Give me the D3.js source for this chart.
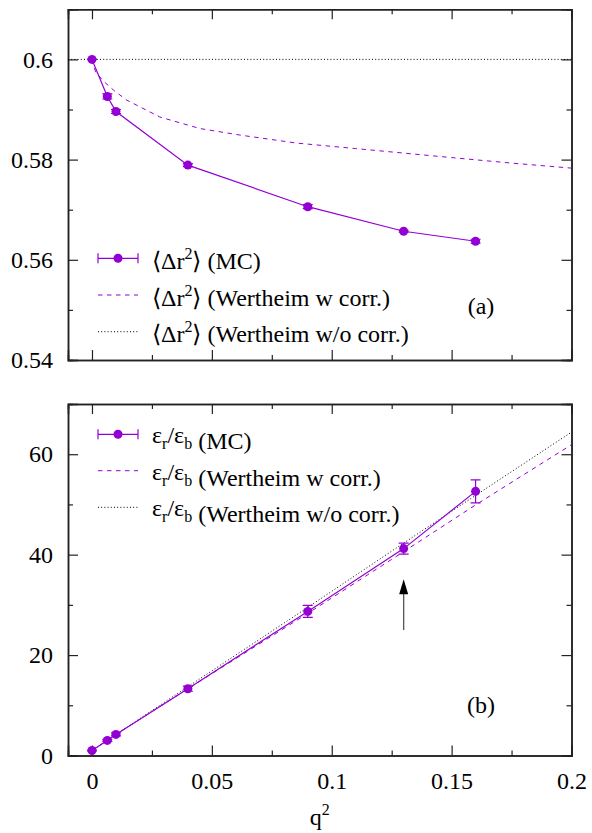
<!DOCTYPE html>
<meta charset="utf-8">
<head>
    <title>Delta r^2 and eps_r/eps_b vs q^2</title>
    <script type="text/javascript" src="https://cdn.jsdelivr.net/npm/d3@7/dist/d3.min.js"></script>
    <style type="text/css">
        body { margin: 0; background: #fff; }
        .axis path { stroke: #222; stroke-width: 1.5; }
        .axis line { stroke: #222; stroke-width: 1.2; }
    </style>
</head>
<body>
<div id="chart"></div>
<script>
// ---- data ----
var q2 = [0, 0.0064, 0.01, 0.04, 0.09, 0.13, 0.16];

// panel (a): <dr^2>
var dr2MC  = [0.6, 0.5926, 0.5896, 0.5789, 0.5706, 0.5657, 0.5637];
var dr2Err = [0, 0.0005, 0.0004, 0.0003, 0.0004, 0.0002, 0.0004];
var dr2WcX = [0, 0.0015, 0.0047, 0.0089, 0.0144, 0.0283, 0.045, 0.0617, 0.0853, 0.11, 0.13, 0.15, 0.175, 0.2];
var dr2WcY = [0.6, 0.5975, 0.5957, 0.5939, 0.5919, 0.5885, 0.5862, 0.5849, 0.5833, 0.5822, 0.5813, 0.5804, 0.5793, 0.5783];
var dr2WoX = [-0.01, 0.2];
var dr2WoY = [0.6, 0.6];

// panel (b): eps_r / eps_b
var epsMC  = [1.0, 3.0, 4.2, 13.3, 28.7, 41.2, 52.6];
var epsErr = [0.1, 0.2, 0.3, 0.5, 1.2, 1.1, 2.3];
var epsWcX = [0, 0.01, 0.04, 0.09, 0.13, 0.16, 0.2];
var epsWcY = [1, 4.2, 13.3, 28.3, 40.6, 49.9, 61.9];
var epsWoX = [0, 0.04, 0.09, 0.13, 0.16, 0.2];
var epsWoY = [1, 13.7, 29.5, 42.3, 51.8, 64.4];

// arrow in panel (b), data coords
var arrowX = 0.13, arrowFrom = 25, arrowTo = 35.1;

var xMajor = [0, 0.05, 0.1, 0.15, 0.2];
var xMinor = [0.025, 0.075, 0.125, 0.175];
var xLabels = ["0", "0.05", "0.1", "0.15", "0.2"];

var width = 592, height = 833;
var left = 68, right = 571.5;
var purple = "#9400d3";
var serif = "Liberation Serif, Times New Roman, serif";

var svg = d3.select("#chart").append("svg")
    .attr("width", width).attr("height", height);

var x = d3.scaleLinear().domain([-0.01, 0.2]).range([left, right]);

function drawPanel(cfg) {
    var y = d3.scaleLinear().domain(cfg.domain).range([cfg.bottom, cfg.top]);
    var g = svg.append("g");
    var id = "clip" + cfg.name;
    svg.append("clipPath").attr("id", id).append("rect")
        .attr("x", left).attr("y", cfg.top).attr("width", right - left).attr("height", cfg.bottom - cfg.top);

    // axes: major + minor ticks on all four sides, pointing inward
    g.append("g").attr("class", "axis").attr("transform", "translate(" + left + ",0)")
        .call(d3.axisLeft(y).tickValues(cfg.yMajor).tickSize(-10).tickPadding(15).tickFormat(function(d, i) { return cfg.yLabels[i]; }));
    g.append("g").attr("class", "axis").attr("transform", "translate(" + left + ",0)")
        .call(d3.axisLeft(y).tickValues(cfg.yMinor).tickSize(-5).tickFormat(""));
    g.append("g").attr("class", "axis").attr("transform", "translate(" + right + ",0)")
        .call(d3.axisRight(y).tickValues(cfg.yMajor).tickSize(-10).tickFormat(""));
    g.append("g").attr("class", "axis").attr("transform", "translate(" + right + ",0)")
        .call(d3.axisRight(y).tickValues(cfg.yMinor).tickSize(-5).tickFormat(""));
    g.append("g").attr("class", "axis").attr("transform", "translate(0," + cfg.bottom + ")")
        .call(d3.axisBottom(x).tickValues(xMajor).tickSize(-10).tickPadding(16)
            .tickFormat(function(d, i) { return cfg.xLabels ? xLabels[i] : ""; }));
    g.append("g").attr("class", "axis").attr("transform", "translate(0," + cfg.bottom + ")")
        .call(d3.axisBottom(x).tickValues(xMinor).tickSize(-5).tickFormat(""));
    g.append("g").attr("class", "axis").attr("transform", "translate(0," + cfg.top + ")")
        .call(d3.axisTop(x).tickValues(xMajor).tickSize(-10).tickFormat(""));
    g.append("g").attr("class", "axis").attr("transform", "translate(0," + cfg.top + ")")
        .call(d3.axisTop(x).tickValues(xMinor).tickSize(-5).tickFormat(""));
    g.selectAll(".axis").attr("font-family", serif).attr("font-size", 24);

    var line = d3.line().x(function(d) { return x(d[0]); }).y(function(d) { return y(d[1]); });
    var plot = g.append("g").attr("clip-path", "url(#" + id + ")");

    // Wertheim w/o corr. - dotted black
    plot.append("path").datum(d3.zip(cfg.woX, cfg.woY))
        .attr("d", line).attr("fill", "none").attr("stroke", "#000")
        .attr("stroke-width", 1).attr("stroke-dasharray", "1,2.2");
    // Wertheim w corr. - dashed purple
    plot.append("path").datum(d3.zip(cfg.wcX, cfg.wcY))
        .attr("d", line).attr("fill", "none").attr("stroke", purple)
        .attr("stroke-width", 1).attr("stroke-dasharray", "4.5,4.5");
    // MC with error bars
    var mc = d3.zip(q2, cfg.mc, cfg.err);
    plot.append("path").datum(mc)
        .attr("d", line).attr("fill", "none").attr("stroke", purple).attr("stroke-width", 1.2);
    var eb = plot.selectAll(".eb").data(mc).enter().append("g");
    eb.append("line")
        .attr("x1", function(d) { return x(d[0]); }).attr("x2", function(d) { return x(d[0]); })
        .attr("y1", function(d) { return y(d[1] - d[2]); }).attr("y2", function(d) { return y(d[1] + d[2]); })
        .attr("stroke", purple).attr("stroke-width", 1.2);
    [-1, 1].forEach(function(s) {
        eb.append("line")
            .attr("x1", function(d) { return x(d[0]) - 5; }).attr("x2", function(d) { return x(d[0]) + 5; })
            .attr("y1", function(d) { return y(d[1] + s * d[2]); }).attr("y2", function(d) { return y(d[1] + s * d[2]); })
            .attr("stroke", purple).attr("stroke-width", 1.2);
    });
    eb.append("circle")
        .attr("cx", function(d) { return x(d[0]); }).attr("cy", function(d) { return y(d[1]); })
        .attr("r", 4.5).attr("fill", purple);

    // legend
    var lx0 = 98, lx1 = 138, tx = 152;
    var rows = cfg.legendY;
    var lg = g.append("g");
    lg.append("line").attr("x1", lx0).attr("x2", lx1).attr("y1", rows[0]).attr("y2", rows[0])
        .attr("stroke", purple).attr("stroke-width", 1.2);
    [lx0, lx1].forEach(function(xx) {
        lg.append("line").attr("x1", xx).attr("x2", xx).attr("y1", rows[0] - 5).attr("y2", rows[0] + 5)
            .attr("stroke", purple).attr("stroke-width", 1.2);
    });
    lg.append("circle").attr("cx", (lx0 + lx1) / 2).attr("cy", rows[0]).attr("r", 4.5).attr("fill", purple);
    lg.append("line").attr("x1", lx0).attr("x2", lx1).attr("y1", rows[1]).attr("y2", rows[1])
        .attr("stroke", purple).attr("stroke-width", 1).attr("stroke-dasharray", "4.5,4.5");
    lg.append("line").attr("x1", lx0).attr("x2", lx1).attr("y1", rows[2]).attr("y2", rows[2])
        .attr("stroke", "#000").attr("stroke-width", 1).attr("stroke-dasharray", "1,2.2");
    var suffix = [" (MC)", " (Wertheim w corr.)", " (Wertheim w/o corr.)"];
    rows.forEach(function(ry, i) {
        var t = lg.append("text").attr("x", tx).attr("y", ry + cfg.textOff)
            .attr("font-family", serif).attr("font-size", 24);
        cfg.legendLabel(t);
        t.append("tspan").text(suffix[i]);
    });

    // panel tag
    g.append("text").attr("x", 481).attr("y", cfg.tagY).attr("text-anchor", "middle")
        .attr("font-family", serif).attr("font-size", 24).text(cfg.tag);
    return y;
}

drawPanel({
    name: "a", top: 9.3, bottom: 360, domain: [0.54, 0.61],
    yMajor: [0.54, 0.56, 0.58, 0.6], yLabels: ["0.54", "0.56", "0.58", "0.6"],
    yMinor: [0.55, 0.57, 0.59],
    mc: dr2MC, err: dr2Err, wcX: dr2WcX, wcY: dr2WcY, woX: dr2WoX, woY: dr2WoY,
    legendY: [258.3, 295, 331.7], textOff: 10.5,
    legendLabel: function(t) {
        t.append("tspan").text("\u27E8\u0394r");
        t.append("tspan").attr("font-size", 16).attr("dy", -10).text("2");
        t.append("tspan").attr("dy", 10).text("\u27E9");
    },
    tag: "(a)", tagY: 314, xLabels: false
});

var yb = drawPanel({
    name: "b", top: 404, bottom: 755.5, domain: [0, 70],
    yMajor: [0, 20, 40, 60], yLabels: ["0", "20", "40", "60"],
    yMinor: [10, 30, 50],
    mc: epsMC, err: epsErr, wcX: epsWcX, wcY: epsWcY, woX: epsWoX, woY: epsWoY,
    legendY: [434.3, 470.7, 507.3], textOff: 9,
    legendLabel: function(t) {
        t.append("tspan").text("\u03B5");
        t.append("tspan").attr("font-size", 16).attr("dy", 6).text("r");
        t.append("tspan").attr("dy", -6).text("/\u03B5");
        t.append("tspan").attr("font-size", 16).attr("dy", 6).text("b");
        t.append("tspan").attr("dy", -6).text("");
    },
    tag: "(b)", tagY: 712.5, xLabels: true
});

// arrow pointing at q^2 = 0.13
svg.append("line")
    .attr("x1", x(arrowX)).attr("x2", x(arrowX))
    .attr("y1", yb(arrowFrom)).attr("y2", yb(arrowTo) + 14)
    .attr("stroke", "#555").attr("stroke-width", 1.3);
svg.append("path")
    .attr("d", "M" + x(arrowX) + "," + yb(arrowTo) + " l-4.5,15 l9,0 z")
    .attr("fill", "#000");

// x axis title
var xt = svg.append("text").attr("x", (left + right) / 2).attr("y", 825)
    .attr("text-anchor", "middle").attr("font-family", serif).attr("font-size", 24);
xt.append("tspan").text("q");
xt.append("tspan").attr("font-size", 16).attr("dy", -10).text("2");
</script>
</body>
</html>
